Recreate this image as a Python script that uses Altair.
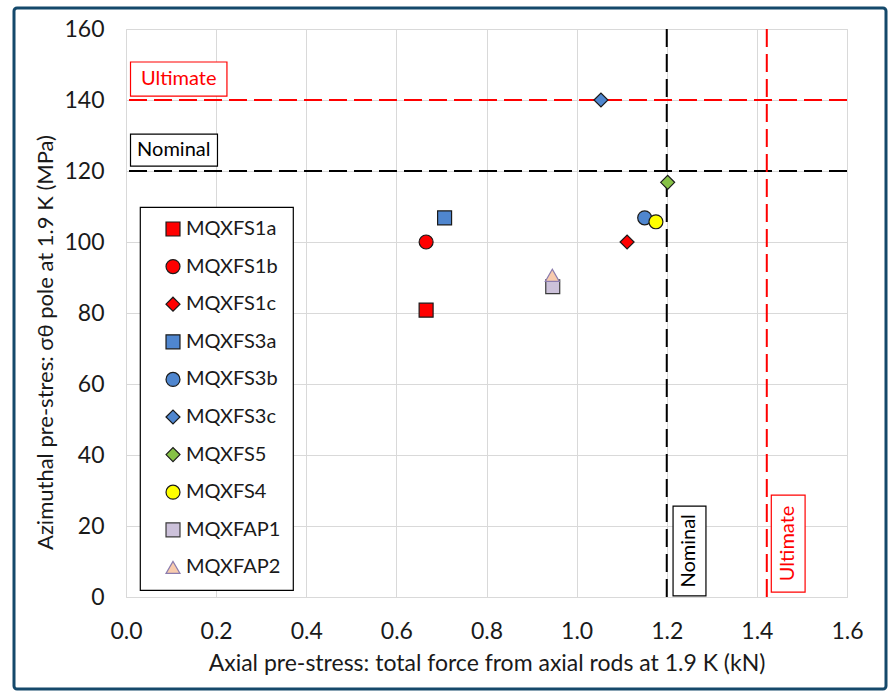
import altair as alt
import pandas as pd

# ---- data ----
names = ["MQXFS1a", "MQXFS1b", "MQXFS1c", "MQXFS3a", "MQXFS3b",
         "MQXFS3c", "MQXFS5", "MQXFS4", "MQXFAP1", "MQXFAP2"]
axial = [0.666, 0.666, 1.112, 0.707, 1.151, 1.054, 1.202, 1.176, 0.947, 0.946]
azimuthal = [80.8, 100.0, 100.0, 106.8, 106.8, 140.0, 116.8, 105.7, 87.4, 90.6]
shapes = ["square", "circle", "diamond", "square", "circle",
          "diamond", "diamond", "circle", "square", "triangle-up"]
fills = ["#ff0000", "#ff0000", "#ff0000", "#4f86cf", "#4f86cf",
         "#4f86cf", "#86c146", "#ffff00", "#ccc1da", "#f8cbad"]
strokes = ["#1a1a1a", "#1a1a1a", "#1a1a1a", "#1a1a1a", "#1a1a1a",
           "#1a1a1a", "#1a1a1a", "#1a1a1a", "#3a3a3a", "#8b7cae"]
sizes = [195, 195, 300, 195, 195, 300, 300, 195, 195, 240]

x_ticks = [0.0, 0.2, 0.4, 0.6, 0.8, 1.0, 1.2, 1.4, 1.6]
y_ticks = [0, 20, 40, 60, 80, 100, 120, 140, 160]

# limit lines
h_limit_values = [140, 120]
h_limit_colors = ["#ff0000", "#000000"]
v_limit_values = [1.422, 1.2]
v_limit_colors = ["#ff0000", "#000000"]

# annotation boxes (horizontal)
h_text = ["Ultimate", "Nominal"]
h_color = ["#ff0000", "#000000"]
h_x1 = [0.01, 0.01]
h_x2 = [0.224, 0.203]
h_y1 = [141.1, 121.4]
h_y2 = [150.7, 130.4]
h_tx = [0.117, 0.106]
h_ty = [145.9, 125.9]

# annotation boxes (vertical)
v_text = ["Nominal", "Ultimate"]
v_color = ["#000000", "#ff0000"]
v_x1 = [1.214, 1.432]
v_x2 = [1.287, 1.507]
v_y1 = [0.3, 1.4]
v_y2 = [25.6, 28.7]
v_tx = [1.25, 1.469]
v_ty = [13.0, 15.1]

FONT = "Lato"

pts = pd.DataFrame({"series": names, "axial": axial, "azimuthal": azimuthal})
hl = pd.DataFrame({"v": h_limit_values, "c": h_limit_colors})
vl = pd.DataFrame({"v": v_limit_values, "c": v_limit_colors})
hb = pd.DataFrame({"t": h_text, "c": h_color, "x1": h_x1, "x2": h_x2,
                   "y1": h_y1, "y2": h_y2, "tx": h_tx, "ty": h_ty})
vb = pd.DataFrame({"t": v_text, "c": v_color, "x1": v_x1, "x2": v_x2,
                   "y1": v_y1, "y2": v_y2, "tx": v_tx, "ty": v_ty})

xscale = alt.Scale(domain=[0, 1.6], nice=False, zero=False)
yscale = alt.Scale(domain=[0, 160], nice=False, zero=False)

x_axis = alt.Axis(values=x_ticks, format=".1f", labelPadding=34, labelBaseline="middle",
                  labelFlush=False, labelOverlap=False,
                  title="Axial pre-stress: total force from axial rods at 1.9 K (kN)",
                  titleY=66, titleBaseline="middle", titleFontSize=23)
y_axis = alt.Axis(values=y_ticks, labelPadding=22, labelFlush=False, labelOverlap=False,
                  title="Azimuthal pre-stres: σθ pole at 1.9 K (MPa)",
                  titleX=-81, titleY=313, titleBaseline="middle", titleAlign="center",
                  titleFontSize=22)

base_x = alt.X("axial:Q", scale=xscale, axis=x_axis)
base_y = alt.Y("azimuthal:Q", scale=yscale, axis=y_axis)

# axes carrier (invisible)
axes_layer = alt.Chart(pts).mark_point(opacity=0).encode(x=base_x, y=base_y)

hrules = alt.Chart(hl).mark_rule(strokeWidth=2, strokeDash=[18, 7]).encode(
    y=alt.Y("v:Q", scale=yscale),
    color=alt.Color("c:N", scale=None),
)
vrules = alt.Chart(vl).mark_rule(strokeWidth=2, strokeDash=[18, 7]).encode(
    x=alt.X("v:Q", scale=xscale),
    color=alt.Color("c:N", scale=None),
)

hbox = alt.Chart(hb).mark_rect(fill="white", strokeWidth=1.2).encode(
    x=alt.X("x1:Q", scale=xscale), x2="x2:Q",
    y=alt.Y("y1:Q", scale=yscale), y2="y2:Q",
    stroke=alt.Stroke("c:N", scale=None),
)
htext = alt.Chart(hb).mark_text(font=FONT, fontSize=20, align="center", baseline="middle").encode(
    x=alt.X("tx:Q", scale=xscale), y=alt.Y("ty:Q", scale=yscale),
    text="t:N", color=alt.Color("c:N", scale=None),
)
vbox = alt.Chart(vb).mark_rect(fill="white", strokeWidth=1.2).encode(
    x=alt.X("x1:Q", scale=xscale), x2="x2:Q",
    y=alt.Y("y1:Q", scale=yscale), y2="y2:Q",
    stroke=alt.Stroke("c:N", scale=None),
)
vtext = alt.Chart(vb).mark_text(font=FONT, fontSize=20, align="center", baseline="middle",
                                angle=270).encode(
    x=alt.X("tx:Q", scale=xscale), y=alt.Y("ty:Q", scale=yscale),
    text="t:N", color=alt.Color("c:N", scale=None),
)

leg = alt.Legend(title=None, labelExpr="datum.label + '    '")
points = alt.Chart(pts).mark_point(filled=True, opacity=1, strokeWidth=1.2).encode(
    x=alt.X("axial:Q", scale=xscale),
    y=alt.Y("azimuthal:Q", scale=yscale),
    color=alt.Color("series:N", scale=alt.Scale(domain=names, range=fills), legend=leg),
    shape=alt.Shape("series:N", scale=alt.Scale(domain=names, range=shapes), legend=leg),
    stroke=alt.Stroke("series:N", scale=alt.Scale(domain=names, range=strokes), legend=leg),
    size=alt.Size("series:N", scale=alt.Scale(domain=names, range=sizes), legend=None),
)

border = alt.Chart(pd.DataFrame({"a": [0]})).mark_rect(
    fillOpacity=0, stroke="#15496b", strokeWidth=3, cornerRadius=3
).encode(x=alt.value(-112), x2=alt.value(760), y=alt.value(-21), y2=alt.value(660))

chart = alt.layer(axes_layer, hrules, vrules, hbox, htext, vbox, vtext, points, border).properties(
    width=721, height=568,
    padding={"left": 126, "top": 29, "right": 45, "bottom": 95},
    autosize=alt.AutoSizeParams(type="none"),
    background="white",
).configure_view(
    stroke="#d9d9d9", strokeWidth=1
).configure_axis(
    grid=True, gridColor="#d9d9d9", gridWidth=1, domain=False, ticks=False, tickSize=0,
    labelFont=FONT, labelFontSize=23, labelColor="#1a1a1a",
    titleFont=FONT, titleFontSize=21, titleFontWeight="normal", titleColor="#1a1a1a",
).configure_legend(
    orient="none", legendX=14, legendY=178, padding=12,
    strokeColor="#000000", fillColor="#ffffff", strokeWidth=1.2, cornerRadius=0,
    labelFont=FONT, labelFontSize=20, labelColor="#1a1a1a", labelOffset=3,
    symbolSize=170, symbolStrokeWidth=1.2, symbolOffset=11, rowPadding=17.6,
)

chart.save("out.html", embed_options={"renderer": "svg", "actions": False})
